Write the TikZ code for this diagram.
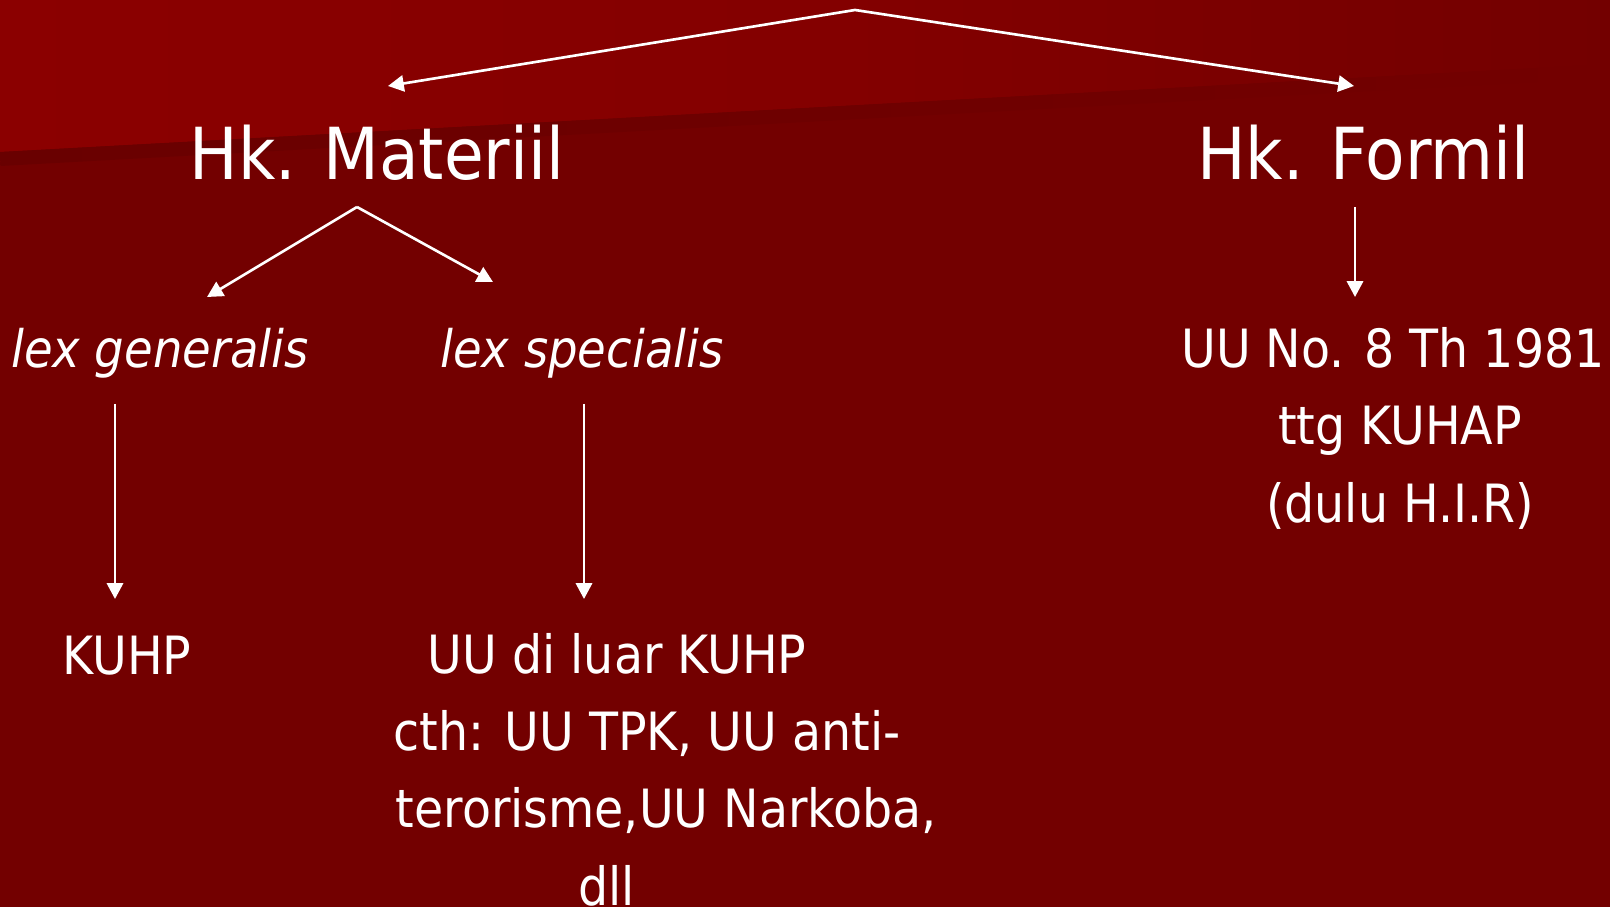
\documentclass[tikz,border=0pt]{standalone}
\usepackage{fontspec}
\setmainfont{DejaVu Sans Condensed}
\usetikzlibrary{arrows.meta}

\definecolor{bgtop}{HTML}{8B0000}
\definecolor{bgdark}{HTML}{730000}
\definecolor{bgshade}{HTML}{690000}

\begin{document}
\begin{tikzpicture}[
    x=0.01cm, y=-0.01cm,
    >={Triangle[length=4.5pt,width=4.6pt]},
    link/.style={->, draw=white, line width=0.75pt},
    heading/.style={text=white, anchor=base, inner sep=0pt,
      font=\fontsize{20.4}{26}\selectfont},
    label/.style={text=white, anchor=base, inner sep=0pt,
      font=\fontsize{15}{21.9}\selectfont},
    lex/.style={label, font=\fontsize{14.7}{21.9}\selectfont\itshape},
  ]
  \useasboundingbox (0,0) rectangle (1610,907);

  % background
  \fill[bgdark] (0,0) rectangle (1610,907);
  \shade[left color=bgtop, right color=bgdark, middle color=bgtop!70!bgdark]
    (0,0) -- (1610,0) -- (1610,64) -- (0,152) -- cycle;
  \begin{scope}[rotate around={3.13:(0,152)}]
    \shade[left color=bgshade, right color=bgdark] (0,152) rectangle (1620,166);
  \end{scope}

  % nodes
  \node[heading] (mat) at (377,180) {Hk. Materiil};
  \node[heading] (form) at (1363,180) {Hk. Formil};
  \node[lex] (gen) at (160,368) {lex generalis};
  \node[lex] (spec) at (582,368) {lex specialis};
  \node[label, align=center] (uu) at (1400,522)
    {UU No. 8 Th 1981\hspace*{4pt}\\ttg KUHAP\\(dulu H.I.R)};
  \node[label] (kuhp) at (127,674) {KUHP};
  \node[label, align=left, anchor=base west] (luar) at (393,905)
    {\hspace*{9.7pt}UU di luar KUHP\\cth: UU TPK, UU anti-\\
     \hspace*{0.6pt}terorisme,UU Narkoba,\\\hspace*{52.6pt}dll};

  % arrows
  \coordinate (top) at (855,10);
  \coordinate (matfork) at (357,207);
  \draw[link] (top) -- ([shift={(11,-94)}]mat.base);
  \draw[link] (top) -- ([shift={(-9,-94)}]form.base);
  \draw[link] (matfork) -- ([shift={(47,-71)}]gen.base);
  \draw[link] (matfork) -- ([shift={(-89,-86)}]spec.base);
  \draw[link] ([shift={(-8,27)}]form.base) -- ([shift={(-45,-225)}]uu.base);
  \draw[link] ([shift={(-45,36)}]gen.base) -- ([shift={(-12,-75)}]kuhp.base);
  \draw[link] ([shift={(2,36)}]spec.base) -- ([shift={(191,-306)}]luar.base west);
\end{tikzpicture}
\end{document}
